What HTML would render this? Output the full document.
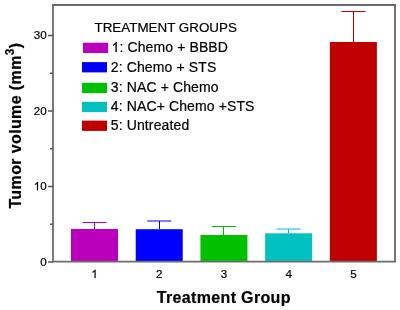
<!DOCTYPE html>
<html><head><meta charset="utf-8"><style>
html,body{margin:0;padding:0;background:#fff;width:400px;height:310px;overflow:hidden}
svg{display:block;will-change:transform}
text{font-family:"Liberation Sans",sans-serif;fill:#000;stroke:#000;stroke-width:0.2px}
</style></head><body>
<svg width="400" height="310" viewBox="0 0 400 310"><rect width="400" height="310" fill="#fff"/><rect x="71.00" y="229" width="47" height="33" fill="#BB00BB"/><line x1="94.5" y1="229" x2="94.5" y2="222.5" stroke="#BB00BB" stroke-width="1"/><line x1="82.50" y1="222.5" x2="106.50" y2="222.5" stroke="#BB00BB" stroke-width="1"/><rect x="135.72" y="229.2" width="47" height="32.80000000000001" fill="#0000FF"/><line x1="159.5" y1="229.2" x2="159.5" y2="221" stroke="#0000FF" stroke-width="1"/><line x1="147.22" y1="221" x2="171.22" y2="221" stroke="#0000FF" stroke-width="1"/><rect x="200.44" y="235" width="47" height="27" fill="#00C000"/><line x1="223.5" y1="235" x2="223.5" y2="226.5" stroke="#00C000" stroke-width="1"/><line x1="211.94" y1="226.5" x2="235.94" y2="226.5" stroke="#00C000" stroke-width="1"/><rect x="265.16" y="233.3" width="47" height="28.69999999999999" fill="#00C0C0"/><line x1="288.5" y1="233.3" x2="288.5" y2="229" stroke="#00C0C0" stroke-width="1"/><line x1="276.66" y1="229" x2="300.66" y2="229" stroke="#00C0C0" stroke-width="1"/><rect x="329.88" y="42" width="47" height="220" fill="#C00000"/><line x1="353.5" y1="42" x2="353.5" y2="11.5" stroke="#C00000" stroke-width="1"/><line x1="341.38" y1="11.5" x2="365.38" y2="11.5" stroke="#C00000" stroke-width="1"/><line x1="53" y1="4" x2="53" y2="262" stroke="#7a7a7a" stroke-width="2"/><line x1="395" y1="4" x2="395" y2="262" stroke="#747474" stroke-width="2"/><line x1="52" y1="5" x2="396" y2="5" stroke="#6a6a6a" stroke-width="2"/><line x1="52" y1="261.6" x2="396" y2="261.6" stroke="#6c6c6c" stroke-width="1.6"/><line x1="48" y1="262.0" x2="53" y2="262.0" stroke="#555" stroke-width="1.5"/><text x="46.6" y="265.70" text-anchor="end" font-size="11.6">0</text><line x1="48" y1="186.5" x2="53" y2="186.5" stroke="#555" stroke-width="1.5"/><path transform="translate(33.70,190.20) scale(0.00566,-0.00566)" d="M763 0H583V1147C540 1106 483 1065 413 1024C343 983 280 952 225 931V1105C324 1152 411 1208 485 1274C559 1340 612 1404 643 1466H763Z" fill="#000" stroke="#000" stroke-width="35.3"/><text x="46.6" y="190.20" text-anchor="end" font-size="11.6">0</text><line x1="48" y1="111.0" x2="53" y2="111.0" stroke="#555" stroke-width="1.5"/><text x="46.6" y="114.70" text-anchor="end" font-size="11.6">20</text><line x1="48" y1="35.5" x2="53" y2="35.5" stroke="#555" stroke-width="1.5"/><text x="46.6" y="39.20" text-anchor="end" font-size="11.6">30</text><line x1="50" y1="224.25" x2="53" y2="224.25" stroke="#555" stroke-width="1.5"/><line x1="50" y1="148.75" x2="53" y2="148.75" stroke="#555" stroke-width="1.5"/><line x1="50" y1="73.25" x2="53" y2="73.25" stroke="#555" stroke-width="1.5"/><path transform="translate(91.28,278.00) scale(0.00566,-0.00566)" d="M763 0H583V1147C540 1106 483 1065 413 1024C343 983 280 952 225 931V1105C324 1152 411 1208 485 1274C559 1340 612 1404 643 1466H763Z" fill="#000" stroke="#000" stroke-width="35.3"/><text x="159.22" y="278" text-anchor="middle" font-size="11.6">2</text><text x="223.94" y="278" text-anchor="middle" font-size="11.6">3</text><text x="288.66" y="278" text-anchor="middle" font-size="11.6">4</text><text x="353.38" y="278" text-anchor="middle" font-size="11.6">5</text><text x="94.5" y="32.4" font-size="13.4">TREATMENT GROUPS</text><rect x="83" y="42.70" width="25" height="10.3" fill="#BB00BB"/><path transform="translate(111.50,52.10) scale(0.00684,-0.00684)" d="M763 0H583V1147C540 1106 483 1065 413 1024C343 983 280 952 225 931V1105C324 1152 411 1208 485 1274C559 1340 612 1404 643 1466H763Z" fill="#000" stroke="#000" stroke-width="29.3"/><text x="119.40" y="52.10" font-size="14" letter-spacing="0.12">: Chemo + BBBD</text><rect x="82" y="62.10" width="25" height="10.3" fill="#0000FF"/><text x="110.8" y="71.50" font-size="14" letter-spacing="0.12">2: Chemo + STS</text><rect x="82" y="82.80" width="25" height="10.3" fill="#00C000"/><text x="110.8" y="92.20" font-size="14" letter-spacing="0.12">3: NAC + Chemo</text><rect x="82" y="101.80" width="25" height="10.3" fill="#00C0C0"/><text x="110.8" y="111.20" font-size="14" letter-spacing="0.12">4: NAC+ Chemo +STS</text><rect x="82" y="120.60" width="25" height="10.3" fill="#C00000"/><text x="110.8" y="130.00" font-size="14" letter-spacing="0.12">5: Untreated</text><text x="156.7" y="303" font-size="16" font-weight="bold" letter-spacing="0.35">Treatment Group</text><text transform="translate(21.3,208.6) rotate(-90)" x="0" y="0" font-size="16" font-weight="bold" letter-spacing="0.38">Tumor volume (mm<tspan font-size="12" dy="-7.8">3</tspan><tspan dy="7.8">)</tspan></text></svg>
</body></html>
